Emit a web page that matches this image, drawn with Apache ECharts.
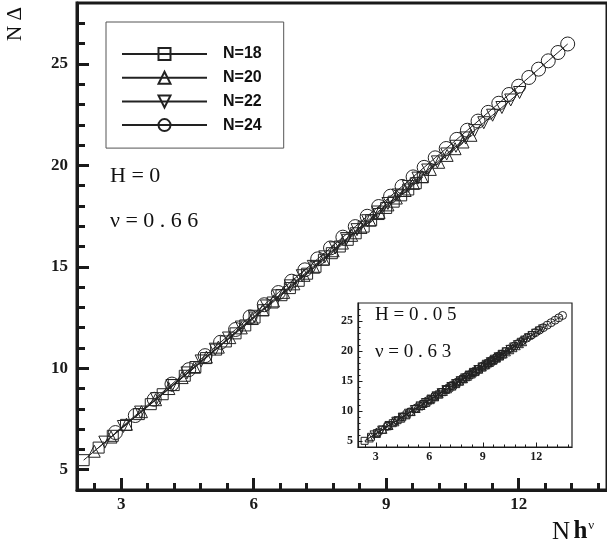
<!DOCTYPE html>
<html><head><meta charset="utf-8">
<script src="https://cdn.jsdelivr.net/npm/echarts@6/dist/echarts.min.js"></script>
<style>html,body{margin:0;padding:0;background:#fff}#c{width:607px;height:551px}</style>
</head><body><div id="c"></div>
<script>
const seriesNames = ['N=18', 'N=20', 'N=22', 'N=24'];

// Main panel (H = 0, nu = 0.66): x = N h^nu, y = N Delta
const x18 = [2.15,2.49,2.81,3.11,3.40,3.67,3.94,4.19,4.44,4.68,4.92,5.15,5.37,5.59,5.81,6.02,6.22,6.43,6.63,6.82,7.02,7.21,7.40,7.59,7.77,7.95,8.13,8.31,8.49,8.66,8.83,9.00,9.17,9.34,9.50,9.67,9.83];
const y18 = [5.47,6.09,6.67,7.21,7.74,8.23,8.72,9.17,9.63,10.06,10.50,10.92,11.32,11.72,12.11,12.50,12.86,13.24,13.60,13.95,14.31,14.66,15.00,15.35,15.67,16.00,16.33,16.65,16.98,17.29,17.60,17.90,18.21,18.52,18.81,19.12,19.41];
const x20 = [2.39,2.77,3.12,3.46,3.78,4.08,4.38,4.66,4.93,5.20,5.46,5.72,5.97,6.21,6.45,6.68,6.91,7.14,7.36,7.58,7.80,8.01,8.22,8.43,8.63,8.84,9.04,9.23,9.43,9.62,9.81,10.00,10.19,10.38,10.56,10.74,10.92];
const y20 = [5.91,6.61,7.24,7.86,8.45,9.00,9.54,10.05,10.55,11.04,11.51,11.99,12.45,12.88,13.32,13.74,14.16,14.58,14.98,15.38,15.79,16.17,16.55,16.94,17.30,17.68,18.05,18.39,18.76,19.11,19.45,19.80,20.15,20.49,20.82,21.15,21.48];
const x22 = [2.63,3.05,3.44,3.80,4.15,4.49,4.81,5.13,5.43,5.72,6.01,6.29,6.56,6.83,7.10,7.35,7.61,7.85,8.10,8.34,8.58,8.81,9.04,9.27,9.50,9.72,9.94,10.16,10.37,10.58,10.80,11.00,11.21,11.41,11.62,11.82,12.02];
const y22 = [6.36,7.13,7.84,8.50,9.15,9.77,10.36,10.94,11.49,12.03,12.56,13.07,13.57,14.06,14.56,15.02,15.49,15.93,16.39,16.83,17.27,17.70,18.12,18.54,18.96,19.37,19.77,20.17,20.56,20.94,21.35,21.71,22.10,22.47,22.85,23.22,23.59];
const x24 = [2.87,3.32,3.75,4.15,4.53,4.90,5.25,5.59,5.92,6.24,6.56,6.86,7.16,7.45,7.74,8.02,8.30,8.57,8.83,9.10,9.36,9.61,9.86,10.11,10.36,10.60,10.84,11.08,11.31,11.55,11.78,12.00,12.23,12.45,12.67,12.89,13.11];
const y24 = [6.83,7.67,8.47,9.22,9.93,10.62,11.28,11.91,12.53,13.13,13.73,14.29,14.85,15.39,15.93,16.46,16.98,17.49,17.97,18.48,18.96,19.43,19.90,20.37,20.83,21.28,21.73,22.18,22.61,23.06,23.49,23.90,24.33,24.74,25.15,25.56,25.98];

// Inset panel (H = 0.05, nu = 0.63)
const insetX18 = [2.37,2.73,3.06,3.37,3.67,3.95,4.22,4.48,4.73,4.98,5.22,5.45,5.67,5.90,6.11,6.32,6.53,6.73,6.93,7.13,7.32,7.52,7.70,7.89,8.07,8.25,8.43,8.61,8.78,8.95,9.12,9.29,9.46,9.62,9.78,9.95,10.11];
const insetY18 = [5.03,5.70,6.31,6.89,7.45,7.97,8.47,8.95,9.42,9.88,10.33,10.76,11.17,11.59,11.98,12.38,12.77,13.14,13.51,13.88,14.24,14.61,14.94,15.30,15.63,15.97,16.30,16.63,16.95,17.27,17.58,17.90,18.22,18.51,18.81,19.13,19.42];
const insetX20 = [2.63,3.03,3.40,3.74,4.07,4.39,4.69,4.98,5.26,5.53,5.80,6.05,6.30,6.55,6.79,7.02,7.26,7.48,7.70,7.92,8.14,8.35,8.56,8.77,8.97,9.17,9.37,9.56,9.76,9.95,10.14,10.32,10.51,10.69,10.87,11.05,11.23];
const insetY20 = [5.51,6.26,6.95,7.59,8.20,8.80,9.36,9.90,10.42,10.92,11.43,11.89,12.36,12.83,13.27,13.70,14.15,14.56,14.97,15.38,15.79,16.18,16.57,16.97,17.34,17.71,18.09,18.44,18.81,19.17,19.52,19.86,20.21,20.55,20.88,21.22,21.55];
const insetX22 = [2.90,3.33,3.74,4.12,4.48,4.83,5.16,5.48,5.78,6.09,6.38,6.66,6.93,7.21,7.47,7.73,7.98,8.23,8.47,8.72,8.95,9.19,9.42,9.64,9.86,10.08,10.30,10.52,10.73,10.94,11.15,11.35,11.56,11.76,11.96,12.16,12.35];
const insetY22 = [6.02,6.83,7.59,8.30,8.98,9.63,10.25,10.85,11.41,11.99,12.53,13.05,13.56,14.08,14.57,15.06,15.52,15.99,16.44,16.91,17.34,17.79,18.22,18.63,19.04,19.45,19.86,20.27,20.67,21.06,21.45,21.82,22.22,22.59,22.97,23.34,23.69];
const insetX24 = [3.16,3.64,4.08,4.49,4.89,5.27,5.63,5.97,6.31,6.64,6.96,7.26,7.56,7.86,8.15,8.43,8.71,8.98,9.24,9.51,9.77,10.02,10.27,10.52,10.76,11.00,11.24,11.47,11.71,11.94,12.16,12.39,12.61,12.83,13.05,13.26,13.47];
const insetY24 = [6.54,7.44,8.27,9.04,9.79,10.51,11.18,11.82,12.46,13.08,13.68,14.25,14.81,15.38,15.92,16.45,16.97,17.48,17.97,18.48,18.97,19.44,19.91,20.38,20.83,21.28,21.73,22.16,22.61,23.05,23.46,23.89,24.31,24.72,25.13,25.53,25.92];

// Tick values
const xMajorTicks = [3, 6, 9, 12];
const xMinorTicks = [2.4, 3.6, 4.2, 4.8, 5.4, 6.6, 7.2, 7.8, 8.4, 9.6, 10.2, 10.8, 11.4, 12.6, 13.2, 13.8];
const yMajorTicks = [5, 10, 15, 20, 25];
const yMinorTicks = [6,7,8,9,11,12,13,14,16,17,18,19,21,22,23,24,26,27];

// Annotation texts
const yAxisTitle = 'N Δ';
const mainNotes = ['H = 0', 'ν = 0 . 6 6'];
const insetNotes = ['H = 0 . 0 5', 'ν = 0 . 6 3'];

const SERIF = "'Liberation Serif', 'Times New Roman', serif";
const INK = '#1a1a1a';
const zip = (xs, ys) => xs.map((v, i) => [v, ys[i]]);

const downTri = 'path://M0,0L10,0L5,8.66Z';
const symbols = ['rect', 'triangle', downTri, 'circle'];
const mainSizes = [11, 12, 12, 14];
const insetSizes = [7, 8, 8, 8];
const mainData = [zip(x18, y18), zip(x20, y20), zip(x22, y22), zip(x24, y24)];
const insetData = [zip(insetX18, insetY18), zip(insetX20, insetY20), zip(insetX22, insetY22), zip(insetX24, insetY24)];

function mkSeries(name, data, sym, size, xi, yi, lw, z) {
  return {
    name, type: 'line', data, xAxisIndex: xi, yAxisIndex: yi,
    symbol: sym, symbolSize: size, showAllSymbol: true,
    lineStyle: { color: '#222', width: lw },
    itemStyle: { color: 'rgba(255,255,255,0)', borderColor: '#222', borderWidth: 1 },
    emphasis: { disabled: true }, silent: true, z
  };
}
const series = [];
seriesNames.forEach((n, i) => series.push(mkSeries(n, mainData[i], symbols[i], mainSizes[i], 0, 0, 1, 3)));
seriesNames.forEach((n, i) => series.push(mkSeries(n + ' (H=0.05)', insetData[i], symbols[i], insetSizes[i], 2, 2, 0.8, 20)));

function xAxisPair(grid, major, minor, lineW, majLen, minLen, tickW, fontSize, margin, z) {
  return [
    { type: 'value', gridIndex: grid, min: 2, max: 14, position: 'bottom', z,
      axisLine: { show: true, onZero: false, lineStyle: { color: INK, width: lineW } },
      axisTick: { show: true, inside: true, length: majLen, customValues: major, lineStyle: { color: INK, width: tickW } },
      axisLabel: { show: true, customValues: major, margin, color: INK, fontFamily: SERIF, fontWeight: 'bold', fontSize },
      splitLine: { show: false } },
    { type: 'value', gridIndex: grid, min: 2, max: 14, position: 'bottom', z,
      axisLine: { show: false, onZero: false },
      axisTick: { show: true, inside: true, length: minLen, customValues: minor, lineStyle: { color: INK, width: tickW } },
      axisLabel: { show: false }, splitLine: { show: false } }
  ];
}
function yAxisPair(grid, major, minor, lineW, majLen, minLen, tickW, fontSize, margin, z) {
  return [
    { type: 'value', gridIndex: grid, min: 4, max: 28, position: 'left', z,
      axisLine: { show: true, onZero: false, lineStyle: { color: INK, width: lineW } },
      axisTick: { show: true, inside: true, length: majLen, customValues: major, lineStyle: { color: INK, width: tickW } },
      axisLabel: { show: true, customValues: major, margin, color: INK, fontFamily: SERIF, fontWeight: 'bold', fontSize },
      splitLine: { show: false } },
    { type: 'value', gridIndex: grid, min: 4, max: 28, position: 'left', z,
      axisLine: { show: false, onZero: false },
      axisTick: { show: true, inside: true, length: minLen, customValues: minor, lineStyle: { color: INK, width: tickW } },
      axisLabel: { show: false }, splitLine: { show: false } }
  ];
}

const chart = echarts.init(document.getElementById('c'), null, { renderer: 'canvas' });
chart.setOption({
  animation: false,
  backgroundColor: '#fff',
  grid: [
    { left: 77, top: 3, right: -4, bottom: 61, show: true, borderColor: INK, borderWidth: 3, backgroundColor: 'transparent' },
    { left: 358, top: 303, right: 35, bottom: 104, show: true, borderColor: '#222', borderWidth: 1.2, backgroundColor: '#fff', z: 10 }
  ],
  xAxis: [
    ...xAxisPair(0, xMajorTicks, xMinorTicks, 3, 12, 7, 3, 17, 6, 2),
    ...xAxisPair(1, xMajorTicks, xMinorTicks, 1.2, 4.5, 2.5, 1, 12, 4, 30)
  ],
  yAxis: [
    ...yAxisPair(0, yMajorTicks, yMinorTicks, 3, 12, 8, 3, 17, 9, 2),
    ...yAxisPair(1, yMajorTicks, yMinorTicks, 1.2, 4.5, 2.5, 1, 12, 5, 30)
  ],
  legend: {
    data: seriesNames,
    orient: 'vertical', left: 106, top: 22,
    padding: [24, 22, 15, 15],
    itemWidth: 85, itemHeight: 15, itemGap: 7.7,
    backgroundColor: '#fff', borderColor: '#555', borderWidth: 1, borderRadius: 0,
    selectedMode: false,
    textStyle: { fontFamily: "'Liberation Sans', Arial, sans-serif", fontWeight: 'bold', fontSize: 16, color: '#111', padding: [0, 0, 0, 11] }
  },
  graphic: [
    { type: 'text', x: 15, y: 24, rotation: Math.PI / 2, z: 100,
      style: { text: yAxisTitle, font: "21px 'Liberation Serif'", fill: '#111', textAlign: 'center', textVerticalAlign: 'middle' } },
    { type: 'text', x: 110, y: 176, z: 100,
      style: { text: mainNotes[0], font: "22px 'Liberation Serif'", fill: '#111', textAlign: 'left', textVerticalAlign: 'middle' } },
    { type: 'text', x: 110, y: 221, z: 100,
      style: { text: mainNotes[1], font: "22px 'Liberation Serif'", fill: '#111', textAlign: 'left', textVerticalAlign: 'middle' } },
    { type: 'text', x: 375, y: 315, z: 100,
      style: { text: insetNotes[0], font: "19px 'Liberation Serif'", fill: '#111', textAlign: 'left', textVerticalAlign: 'middle' } },
    { type: 'text', x: 375, y: 352, z: 100,
      style: { text: insetNotes[1], font: "19px 'Liberation Serif'", fill: '#111', textAlign: 'left', textVerticalAlign: 'middle' } },
    { type: 'text', x: 552, y: 532, z: 100,
      style: { text: '{n|N} {h|h}{s|ν}', textAlign: 'left', textVerticalAlign: 'middle', fill: '#111',
        rich: {
          n: { fontFamily: 'Liberation Serif', fontSize: 25, color: '#111' },
          h: { fontFamily: 'Liberation Serif', fontWeight: 'bold', fontSize: 25, color: '#111' },
          s: { fontFamily: 'Liberation Serif', fontSize: 13, color: '#111', verticalAlign: 'top', padding: [0, 0, 12, 1] }
        } } }
  ],
  series
});
</script></body></html>
